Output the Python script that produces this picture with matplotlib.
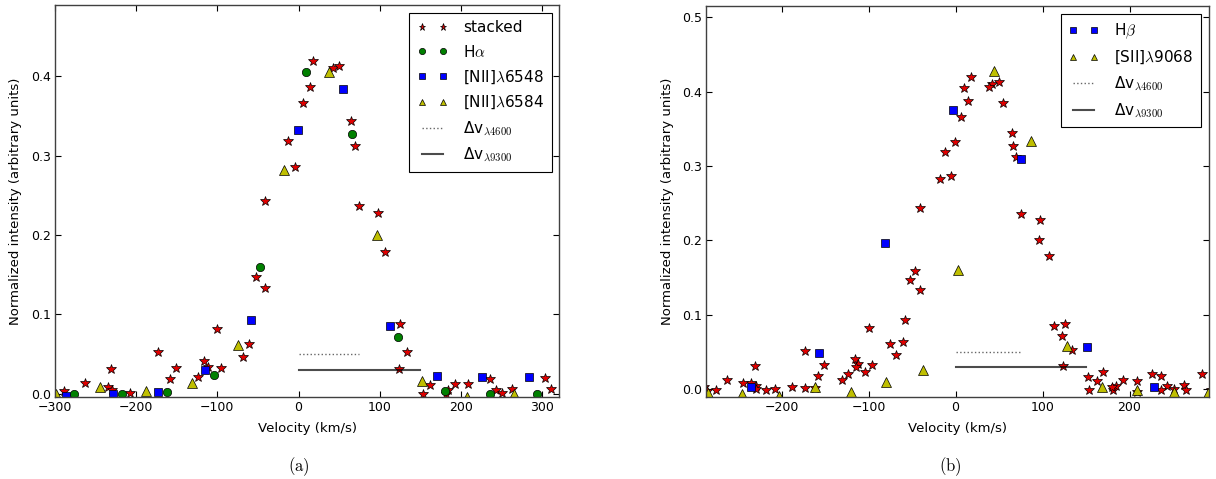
import numpy as np
import matplotlib
matplotlib.use("Agg")
import matplotlib.pyplot as plt

plt.rcParams["font.family"] = "DejaVu Sans"
plt.rcParams["mathtext.fontset"] = "cm"

# (a) stacked profile + individual red lines, velocity (km/s) vs normalized intensity
stacked_v = [-289, -263, -235, -231, -230, -208, -173, -158, -151.5, -124, -116, -112,
             -100, -96, -68, -61, -53, -41, -41, -12.7, -5, 6, 14.4, 17.3, 42, 50, 65,
             70, 75, 97.5, 107, 125.5, 134, 124, 153, 162, 181, 184, 193, 208.6, 236,
             243, 251, 263, 303, 311]
stacked_i = [0.003, 0.013, 0.0083, 0.031, 0.005, 0.001, 0.052, 0.018, 0.032, 0.021, 0.041,
             0.034, 0.082, 0.032, 0.046, 0.063, 0.147, 0.133, 0.243, 0.319, 0.286, 0.366,
             0.387, 0.419, 0.410, 0.413, 0.344, 0.312, 0.236, 0.228, 0.179, 0.088, 0.053,
             0.031, -0.001, 0.0105, -0.001, 0.005, 0.0126, 0.0117, 0.0184, 0.004, 0.001,
             0.006, 0.0197, 0.006]

ha_v = [-276, -218, -162, -104.6, -47, 9.5, 66, 122.6, 180, 236, 293.5]
ha_i = [-0.001, -0.001, 0.002, 0.0235, 0.159, 0.405, 0.327, 0.071, 0.003, -0.001, -0.001]

n6548_v = [-286, -229, -173, -115, -58, -1, 55, 113, 170, 226, 283.6]
n6548_i = [-0.003, 0.0, 0.002, 0.030, 0.093, 0.332, 0.384, 0.085, 0.0227, 0.0206, 0.0206]

n6584_v = [-299, -245, -188, -131, -75, -17.7, 38, 96, 152, 208, 265]
n6584_i = [-0.001, 0.008, 0.003, 0.013, 0.061, 0.282, 0.406, 0.200, 0.016, -0.004, -0.001]

# (b) H-beta and [SII]9068 against the same stack
hb_v = [-235, -157.5, -81, -3.4, 74.7, 150.5, 228]
hb_i = [0.0035, 0.049, 0.196, 0.375, 0.310, 0.057, 0.003]

s9068_v = [-285, -245.5, -203, -162, -120.7, -79.7, -37.5, 3.1, 44.5, 86.7, 128, 168, 209, 251, 290]
s9068_i = [-0.005, -0.007, -0.009, 0.0035, -0.004, 0.0098, 0.026, 0.160, 0.428, 0.333,
           0.058, 0.003, -0.001, -0.004, -0.005]

# velocity resolution bars: (end velocity, height)
dv4600 = (75, 0.05)
dv9300 = (150, 0.03)

mk = dict(linestyle="none", markeredgecolor="k", markeredgewidth=0.5)


def style_axes(ax):
    ax.tick_params(direction="in", top=True, right=True, length=4, width=0.8,
                   labelsize=9, pad=3)
    for s in ax.spines.values():
        s.set_color("0.25")
        s.set_linewidth(1.0)
    ax.set_xlabel("Velocity (km/s)", fontsize=9.5)
    ax.set_ylabel("Normalized intensity (arbitrary units)", fontsize=9.5)
    ax.xaxis.set_label_coords(0.5, -0.064)
    ax.yaxis.set_label_coords(-0.0645, 0.5)


def add_dv(ax):
    ax.plot([0, dv4600[0]], [dv4600[1]] * 2, ":", color="k", alpha=0.6, lw=1.0,
            label=r"Δv$_{\lambda 4600}$")
    ax.plot([0, dv9300[0]], [dv9300[1]] * 2, "-", color="k", alpha=0.7, lw=1.5,
            label=r"Δv$_{\lambda 9300}$")


fig = plt.figure(figsize=(12.16, 4.79), dpi=100)
ax1 = fig.add_axes([0.0452, 0.1718, 0.4147, 0.8177])
ax2 = fig.add_axes([0.5806, 0.1718, 0.4134, 0.8157])

# panel (a)
ax1.plot(stacked_v, stacked_i, "*", color="#e00000", markersize=7, label="stacked", **mk)
ax1.plot(ha_v, ha_i, "o", color="g", markersize=6, label=r"H$\alpha$", **mk)
ax1.plot(n6548_v, n6548_i, "s", color="b", markersize=5.7, label=r"[NII]$\lambda$6548", **mk)
ax1.plot(n6584_v, n6584_i, "^", color="y", markersize=6.5, label=r"[NII]$\lambda$6584", **mk)
add_dv(ax1)
ax1.set_xlim(-300, 321)
ax1.set_ylim(-0.004, 0.49)
ax1.set_xticks(np.arange(-300, 301, 100))
ax1.set_yticks(np.arange(0, 0.41, 0.1))
style_axes(ax1)

# panel (b): the stack here holds every point of panel (a)
all_v = np.concatenate([stacked_v, ha_v, n6548_v, n6584_v])
all_i = np.concatenate([stacked_i, ha_i, n6548_i, n6584_i])
ax2.plot(all_v, all_i, "*", color="#e00000", markersize=7, **mk)
ax2.plot(hb_v, hb_i, "s", color="b", markersize=5.7, label=r"H$\beta$", **mk)
ax2.plot(s9068_v, s9068_i, "^", color="y", markersize=6.5, label=r"[SII]$\lambda$9068", **mk)
add_dv(ax2)
ax2.set_xlim(-287, 291)
ax2.set_ylim(-0.01, 0.515)
ax2.set_xticks(np.arange(-200, 201, 100))
ax2.set_yticks(np.arange(0, 0.51, 0.1))
style_axes(ax2)

for ax in (ax1, ax2):
    leg = ax.legend(loc="upper right", numpoints=2, fontsize=11, fancybox=False,
                    framealpha=1, edgecolor="k", markerscale=0.75, handlelength=2,
                    labelspacing=0.55, borderaxespad=0.5, handletextpad=1.0,
                    borderpad=0.5)
    leg.get_frame().set_linewidth(0.8)

fig.text(299 / 1216, 0.025, r"$\mathrm{(a)}$", ha="center", va="center", fontsize=12)
fig.text(950 / 1216, 0.025, r"$\mathrm{(b)}$", ha="center", va="center", fontsize=12)

fig.savefig("out.png", dpi=100)
